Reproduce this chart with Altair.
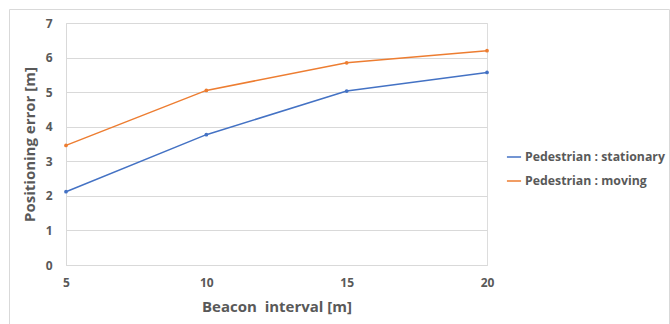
import altair as alt
import pandas as pd

intervals = [5, 10, 15, 20]
stationary = [2.12, 3.77, 5.03, 5.57]
moving = [3.46, 5.05, 5.85, 6.2]
series_names = ["Pedestrian : stationary", "Pedestrian : moving"]
colors = ["#4472C4", "#ED7D31"]

rows = []
for name, vals in zip(series_names, [stationary, moving]):
    for x, v in zip(intervals, vals):
        rows.append({"interval": x, "error": v, "series": name})
df = pd.DataFrame(rows)

grey = "#595959"
font = "Open Sans"

x = alt.X("interval:Q",
          scale=alt.Scale(domain=[5, 20], nice=False, zero=False),
          axis=alt.Axis(values=intervals, title="Beacon\u00a0 interval [m]", grid=False,
                        domain=True, domainColor="#D9D9D9", ticks=False,
                        labelFlush=False, labelBound=False,
                        labelFont=font, labelFontSize=12, labelFontWeight="bold", labelColor=grey,
                        labelPadding=12,
                        titleFont=font, titleFontSize=15, titleFontWeight="bold", titleColor=grey,
                        titlePadding=11))
y = alt.Y("error:Q",
          scale=alt.Scale(domain=[0, 7], nice=False),
          axis=alt.Axis(values=list(range(8)), title="Positioning error [m]", grid=True,
                        gridColor="#D9D9D9", domain=True, domainColor="#D9D9D9", ticks=False,
                        labelFont=font, labelFontSize=12, labelFontWeight="bold", labelColor=grey,
                        labelPadding=14,
                        titleFont=font, titleFontSize=15, titleFontWeight="bold", titleColor=grey,
                        titlePadding=8))
color = alt.Color("series:N",
                  scale=alt.Scale(domain=series_names, range=colors),
                  legend=alt.Legend(title=None, orient="none", legendX=440, legendY=126,
                                    symbolType="stroke", symbolStrokeWidth=1.5, symbolSize=200,
                                    labelFont=font, labelFontSize=12.3, labelFontWeight="bold",
                                    labelColor=grey, rowPadding=9, labelOffset=3))

base = alt.Chart(df)
border = alt.Chart(pd.DataFrame({"b": [0]})).mark_rect(
    fill=None, stroke="#D9D9D9", strokeWidth=1
).encode(x=alt.value(-56.5), x2=alt.value(603.5), y=alt.value(-13.5), y2=alt.value(320))
lines = base.mark_line(strokeWidth=1.5).encode(x=x, y=y, color=color)
pts = base.mark_circle(size=14, opacity=1).encode(x=x, y=y, color=alt.Color("series:N",
        scale=alt.Scale(domain=series_names, range=colors), legend=None))

chart = alt.layer(border, lines, pts).properties(
    width=421, height=242,
    autosize=alt.AutoSizeParams(type="none"),
    padding={"left": 66, "top": 23, "right": 183, "bottom": 59},
).configure_view(stroke=None).configure(background="white")

chart.save("out.html", embed_options={"renderer": "svg", "actions": False})
